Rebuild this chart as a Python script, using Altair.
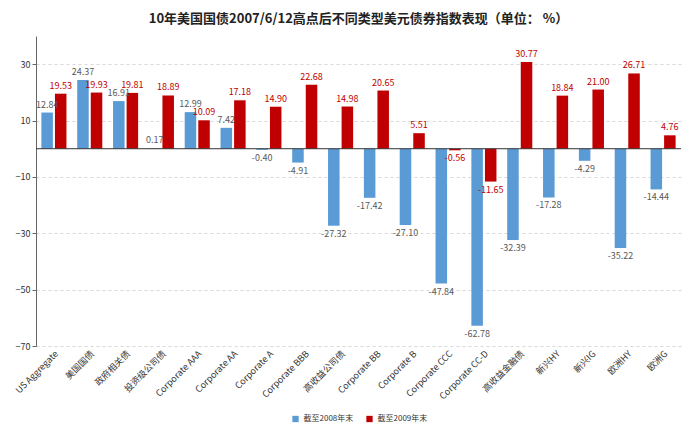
import altair as alt
import pandas as pd

categories = ["US Aggregate", "美国国债", "政府相关债", "投资级公司债", "Corporate AAA",
              "Corporate AA", "Corporate A", "Corporate BBB", "高收益公司债", "Corporate BB",
              "Corporate B", "Corporate CCC", "Corporate CC-D", "高收益金融债", "新兴HY",
              "新兴IG", "欧洲HY", "欧洲G"]
v2008 = [12.84, 24.37, 16.91, 0.17, 12.99, 7.42, -0.40, -4.91, -27.32, -17.42,
         -27.10, -47.84, -62.78, -32.39, -17.28, -4.29, -35.22, -14.44]
v2009 = [19.53, 19.93, 19.81, 18.89, 10.09, 17.18, 14.90, 22.68, 14.98, 20.65,
         5.51, -0.56, -11.65, 30.77, 18.84, 21.00, 26.71, 4.76]
series = ["截至2008年末", "截至2009年末"]

rows = []
for c, a, b in zip(categories, v2008, v2009):
    rows.append({"cat": c, "series": series[0], "value": a})
    rows.append({"cat": c, "series": series[1], "value": b})
df = pd.DataFrame(rows)
df["label"] = df["value"].map(lambda v: f"{v:.2f}")

FONT = "Noto Sans CJK SC"
colors = ["#5B9BD5", "#C00000"]
W, H = 645, 310

base = alt.Chart(df).encode(
    x=alt.X("cat:N", sort=categories, title=None,
            scale=alt.Scale(paddingInner=0.3, paddingOuter=0.15),
            axis=alt.Axis(labelAngle=-45, labelAlign="right", labelBaseline="top",
                          domain=False, ticks=False, labelFontSize=9,
                          labelColor="#333333", labelFont=FONT, labelPadding=3)),
    xOffset=alt.XOffset("series:N", sort=series,
                        scale=alt.Scale(paddingInner=0.15)),
)

yscale = alt.Scale(domain=[-70, 40], nice=False)

bars = base.mark_bar().encode(
    y=alt.Y("value:Q", scale=yscale, title=None,
            axis=alt.Axis(values=[-70, -50, -30, -10, 10, 30], grid=True,
                          gridDash=[3, 3], gridColor="#d9d9d9", domainColor="#666666",
                          tickColor="#666666", labelFontSize=9, labelColor="#333333",
                          labelFont=FONT, tickSize=4)),
    color=alt.Color("series:N", sort=series, scale=alt.Scale(domain=series, range=colors),
                    legend=alt.Legend(orient="none", legendX=W / 2 - 67, legendY=H + 69,
                                      direction="horizontal", title=None, symbolType="square",
                                      symbolSize=40, labelFontSize=8, labelFont=FONT,
                                      labelColor="#333333", columnPadding=12)),
)

lab_color = alt.Color("series:N", sort=series,
                      scale=alt.Scale(domain=series, range=["#595959", "#C00000"]),
                      legend=None)

pos = base.transform_filter("datum.value >= 0").mark_text(
    baseline="bottom", dy=-3, fontSize=9, font=FONT
).encode(y=alt.Y("value:Q", scale=yscale), text="label:N", color=lab_color)

neg = base.transform_filter("datum.value < 0").mark_text(
    baseline="top", dy=4, fontSize=9, font=FONT
).encode(y=alt.Y("value:Q", scale=yscale), text="label:N", color=lab_color)

zero = alt.Chart(pd.DataFrame({"z": [0]})).mark_rule(color="#333333", strokeWidth=1).encode(
    y=alt.Y("z:Q", scale=yscale)
)

chart = alt.layer(bars, zero, pos, neg).resolve_scale(color="independent").properties(
    width=W, height=H,
    padding={"left": 5, "top": 5, "right": 5, "bottom": 0},
    title=alt.TitleParams("10年美国国债2007/6/12高点后不同类型美元债券指数表现（单位： %）",
                          font=FONT, fontSize=13, fontWeight="bold", color="#222222",
                          anchor="middle", offset=10),
).configure_view(stroke=None)

chart.save("out.html", embed_options={"renderer": "svg", "actions": False})
